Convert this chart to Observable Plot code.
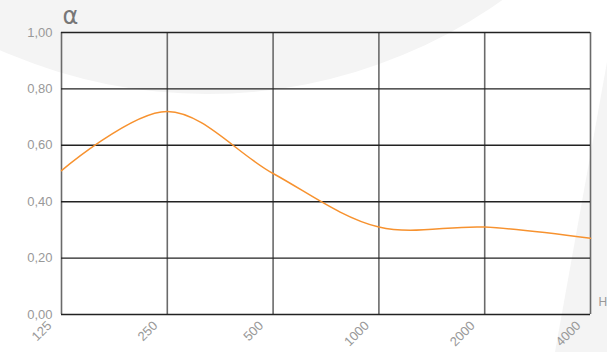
<!DOCTYPE html>
<html>
<head>
<meta charset="utf-8">
<script src="https://cdn.jsdelivr.net/npm/d3@7"></script>
<script src="https://cdn.jsdelivr.net/npm/@observablehq/plot@0.6"></script>
<style>
  html, body { margin: 0; padding: 0; background: #fff; }
  #wrap { position: relative; width: 607px; height: 352px; overflow: hidden; }
  #bg { position: absolute; left: 0; top: 0; }
  #chart { position: absolute; left: 0; top: 0; }
  #chart svg { background: transparent !important; }
</style>
</head>
<body>
<div id="wrap">
  <svg id="bg" width="607" height="352">
    <circle cx="207" cy="-417" r="511" fill="#f4f4f4"></circle>
    <path d="M607,62 L555,352 L607,352 Z" fill="#f4f4f4"></path>
  </svg>
  <div id="chart"></div>
</div>
<script>
const frequencies = [125, 250, 500, 1000, 2000, 4000];
const alphaValues = [0.51, 0.72, 0.50, 0.31, 0.31, 0.27];
const yTicks = [0, 0.2, 0.4, 0.6, 0.8, 1.0];

const data = frequencies.map((f, i) => ({f, a: alphaValues[i]}));
const fmt = v => v.toFixed(2).replace(".", ",");

const chart = Plot.plot({
  width: 607,
  height: 352,
  marginLeft: 61,
  marginRight: 17,
  marginTop: 32,
  marginBottom: 38,
  style: {background: "transparent", fontFamily: "Liberation Sans, Arial, sans-serif", overflow: "hidden"},
  x: {type: "log", domain: [125, 4000]},
  y: {domain: [0, 1]},
  marks: [
    Plot.ruleX(frequencies, {x: d => d, stroke: "#6a6a6a", strokeWidth: 1.6}),
    Plot.ruleY(yTicks, {y: d => d, stroke: "#222", strokeWidth: 1.4}),
    Plot.line(data, {x: "f", y: "a", curve: "catmull-rom", stroke: "#f7922f", strokeWidth: 1.5}),
    Plot.axisY(yTicks, {tickSize: 0, tickPadding: 9, tickFormat: fmt, fill: "#999", fontSize: 13, label: null}),
    Plot.axisX(frequencies, {tickSize: 0, tickPadding: 9, tickRotate: -45, tickFormat: d => String(d), fill: "#999", fontSize: 13, label: null, dx: -12}),
    Plot.text(["α"], {frameAnchor: "top-left", dx: 1, dy: -9, text: d => d, fill: "#777", fontSize: 24, fontFamily: "DejaVu Sans", textAnchor: "start", lineAnchor: "bottom"}),
    Plot.text(["Hz"], {frameAnchor: "bottom-right", dx: 8, dy: -9, text: d => d, fill: "#999", fontSize: 12, textAnchor: "start"})
  ]
});
document.getElementById("chart").appendChild(chart);
</script>
</body>
</html>
